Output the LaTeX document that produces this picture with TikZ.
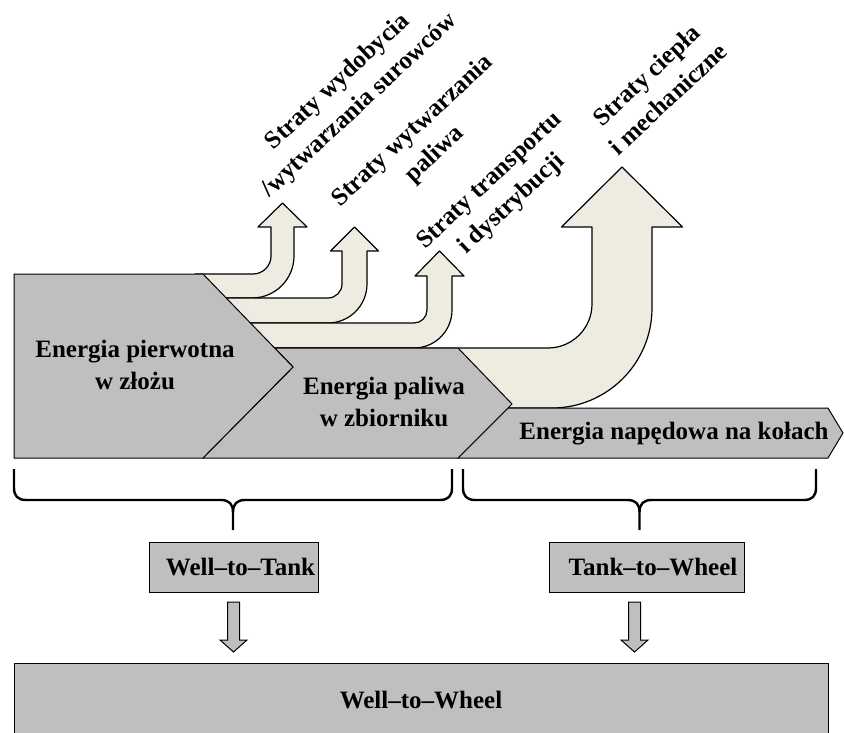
\documentclass[tikz,border=0pt]{standalone}
\usepackage{fontspec}
\setmainfont{Liberation Serif}
\usetikzlibrary{calc}
\definecolor{shapegray}{HTML}{BFBFBF}
\definecolor{bandcream}{HTML}{EEECE1}
\tikzset{
  band/.style={fill=bandcream, draw=black, line width=1.2pt, line join=round},
  gshape/.style={fill=shapegray, draw=black, line width=1pt, line join=miter},
  brace/.style={draw=black, line width=2.4pt},
  dnarrow/.style={fill=shapegray, draw=black, line width=1pt},
  txt/.style={font=\fontsize{25}{32}\selectfont\bfseries, align=center, inner sep=0pt},
  gbox/.style={fill=shapegray, draw=black, line width=1pt, inner sep=0pt, font=\fontsize{25}{32}\selectfont\bfseries},
}
\newcommand{\bandarrow}[9]{%
  \draw[band] (195,#1) -- ({#3-#5},#1)
    .. controls ({#3-0.448*#5},#1) and (#3,{#1-0.448*#5}) .. (#3,{#1-#5})
    -- (#3,#7) -- ({(#3+#4)/2-#8},#7) -- ({(#3+#4)/2},#9) -- ({(#3+#4)/2+#8},#7)
    -- (#4,#7) -- (#4,{#2-#6})
    .. controls (#4,{#2-0.448*#6}) and ({#4-0.448*#6},#2) .. ({#4-#6},#2)
    -- (195,#2) -- cycle;}
\newcommand{\dnarr}[1]{%
  \draw[dnarrow] ({#1-6},602) -- ({#1+6},602) -- ({#1+6},640) -- ({#1+13.5},640)
    -- (#1,652) -- ({#1-13.5},640) -- ({#1-6},640) -- cycle;}
\begin{document}
\begin{tikzpicture}[x=1pt, y=-1pt]
\useasboundingbox (0,0) rectangle (844,733);

% loss bands with up arrows
\bandarrow{274}{298}{271}{294}{18}{42}{227}{24.5}{203}
\bandarrow{298}{323}{342}{367}{14}{39}{251}{24}{227}
\bandarrow{323}{348}{427}{452}{13}{38}{276}{24.5}{251}
\bandarrow{348}{408}{592}{652}{44}{100}{227}{60.5}{167}

% energy shapes
\draw[gshape] (458,458) -- (508,408) -- (828,408) -- (843,433) -- (828,458) -- cycle;
\draw[gshape] (274.6,348) -- (458,348) -- (512,404) -- (458,458) -- (203,458) -- (293,367) -- cycle;
\draw[gshape] (14,274) -- (203,274) -- (293,367) -- (203,458) -- (14,458) -- cycle;

\node[txt] (e1) at (135,365) {Energia pierwotna\\w złożu};
\node[txt] (e2) at (384,402) {Energia paliwa\\w zbiorniku};
\node[txt] (e3) at (674,434) {Energia napędowa na kołach};

% loss labels
\node[txt, rotate=43] (l1) at (349,94) {Straty wydobycia\\/wytwarzania surowców};
\node[txt, rotate=43] (l2) at (424,143) {Straty wytwarzania\\paliwa};
\node[txt, rotate=43] (l3) at (501,193) {Straty transportu\\i dystrybucji};
\node[txt, rotate=43] (l4) at (657,87) {Straty ciepła\\i mechaniczne};

% braces
\draw[brace] (14,469) -- (14,488) .. controls (14,496) and (18,500) .. (26,500) -- (221,500)
  .. controls (229,500) and (233,504) .. (233,512) -- (233,530);
\draw[brace] (452,469) -- (452,488) .. controls (452,496) and (448,500) .. (440,500) -- (245,500)
  .. controls (237,500) and (233,504) .. (233,512);
\draw[brace] (463,469) -- (463,488) .. controls (463,496) and (467,500) .. (475,500) -- (627.5,500)
  .. controls (635.5,500) and (639.5,504) .. (639.5,512) -- (639.5,530);
\draw[brace] (816,469) -- (816,488) .. controls (816,496) and (812,500) .. (804,500) -- (651.5,500)
  .. controls (643.5,500) and (639.5,504) .. (639.5,512);

% summary boxes
\node[gbox, minimum width=169pt, minimum height=50pt] (wtt) at (233.5,567) {\hspace*{14pt}Well–to–Tank};
\node[gbox, minimum width=195pt, minimum height=50pt] (ttw) at (646.5,567) {\hspace*{13pt}Tank–to–Wheel};
\node[gbox, minimum width=814pt, minimum height=85pt, anchor=north west] (wtw) at (14,663) {};
\node[txt] (wtwt) at (421,700) {Well–to–Wheel};

\dnarr{233.5}
\dnarr{634.5}
\end{tikzpicture}
\end{document}
